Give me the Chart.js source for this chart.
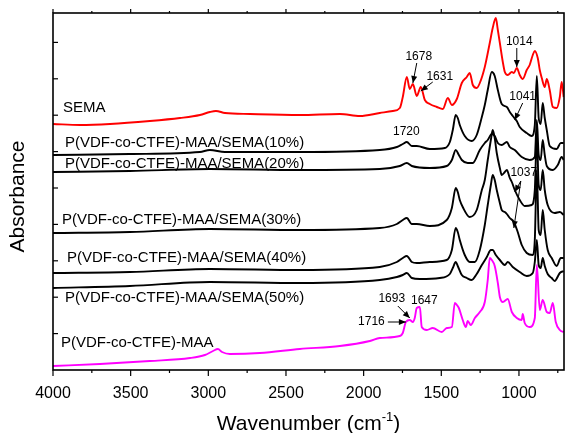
<!DOCTYPE html>
<html>
<head>
<meta charset="utf-8">
<script src="https://cdn.jsdelivr.net/npm/chart.js@4.4.0/dist/chart.umd.min.js"></script>
<style>
  html, body { margin: 0; padding: 0; background: #fff; }
</style>
</head>
<body>
<canvas id="ftir" width="565" height="433"></canvas>
<script>
// x ticks (cm-1)
const xTicks = [1000, 1500, 2000, 2500, 3000, 3500, 4000];

// spectra: wavenumber / absorbance (stacked, a.u.)
const semaWn  = [4000,3826,3633,3376,3183,3054,2990,2951,2893,2732,2411,2153,2024,1896,1812,1767,1748,1722,1703,1683,1658,1632,1606,1574,1529,1490,1458,1432,1400,1368,1336,1317,1297,1272,1252,1220,1188,1169,1149,1136,1123,1104,1091,1072,1046,1033,1014,995,976,950,931,911,898,879,866,853,834,821,802,782,757,737,725,712];
const semaAbs = [2.46,2.45,2.46,2.49,2.52,2.55,2.58,2.59,2.57,2.56,2.55,2.56,2.54,2.57,2.59,2.62,2.73,2.93,2.81,2.86,2.74,2.83,2.70,2.66,2.63,2.61,2.72,2.65,2.71,2.87,2.93,2.97,2.85,2.82,2.87,3.03,3.27,3.42,3.52,3.40,3.27,3.08,2.98,2.95,2.98,2.97,3.02,2.95,2.91,3.00,3.05,3.15,3.19,3.12,3.00,2.92,2.83,2.91,2.80,2.63,2.62,2.73,2.88,2.73];

const s10Wn  = [4000,3505,3054,2990,2893,2411,1896,1786,1748,1722,1690,1658,1574,1477,1445,1426,1407,1394,1381,1349,1304,1272,1239,1220,1201,1175,1156,1136,1111,1078,1059,1040,1014,995,950,918,898,885,873,860,847,834,821,802,757,731,712];
const s10Abs = [2.15,2.16,2.18,2.20,2.18,2.18,2.20,2.23,2.26,2.28,2.24,2.24,2.21,2.22,2.28,2.40,2.55,2.52,2.45,2.34,2.29,2.35,2.53,2.65,2.80,2.98,2.94,2.80,2.66,2.63,2.58,2.54,2.49,2.43,2.37,2.34,2.45,2.94,2.52,2.46,2.67,2.52,2.40,2.24,2.21,2.27,2.27];

const s20Wn  = [4000,3505,2990,2411,1896,1767,1722,1690,1574,1465,1432,1407,1387,1368,1330,1297,1252,1220,1201,1175,1156,1136,1111,1078,1059,1027,982,931,898,885,873,860,847,834,821,782,750,725,712];
const s20Abs = [1.98,1.99,2.01,2.00,2.01,2.04,2.07,2.04,2.02,2.04,2.10,2.20,2.15,2.10,2.07,2.07,2.20,2.27,2.30,2.36,2.34,2.27,2.25,2.28,2.23,2.20,2.13,2.10,2.13,2.50,2.15,2.10,2.30,2.15,2.04,2.00,2.05,2.13,2.10];

const s30Wn  = [4000,3505,2990,2411,1896,1786,1748,1722,1690,1658,1574,1465,1432,1407,1394,1381,1362,1317,1272,1239,1220,1201,1181,1169,1156,1143,1123,1111,1091,1078,1059,1046,1027,995,963,918,898,885,873,860,847,834,815,770,737,712];
const s30Abs = [1.37,1.38,1.41,1.40,1.42,1.46,1.50,1.52,1.46,1.46,1.44,1.50,1.62,1.82,1.78,1.70,1.63,1.53,1.60,1.80,1.90,2.10,2.30,2.40,2.32,2.17,2.02,1.95,1.98,2.00,1.92,1.88,1.80,1.70,1.64,1.65,1.80,2.35,1.85,1.80,2.00,1.80,1.65,1.57,1.58,1.55];

const s40Wn  = [4000,3505,2990,2411,1896,1786,1748,1722,1690,1658,1574,1465,1432,1407,1394,1381,1349,1317,1284,1252,1220,1201,1181,1169,1156,1143,1123,1111,1091,1078,1059,1033,1008,982,950,911,898,885,873,860,847,834,815,789,757,731,712];
const s40Abs = [0.97,0.98,1.01,1.00,1.03,1.08,1.12,1.14,1.08,1.07,1.08,1.10,1.20,1.42,1.38,1.30,1.15,1.08,1.08,1.20,1.45,1.65,1.85,1.95,1.90,1.80,1.67,1.60,1.58,1.56,1.52,1.48,1.38,1.25,1.17,1.15,1.30,2.00,1.40,1.35,1.60,1.40,1.20,1.12,1.04,1.12,1.12];

const s50Wn  = [4000,3505,2990,2411,1896,1786,1748,1722,1690,1638,1510,1445,1426,1407,1394,1368,1336,1304,1272,1239,1207,1181,1169,1149,1123,1091,1072,1040,995,950,911,898,885,873,860,847,834,815,789,770,737,712];
const s50Abs = [0.82,0.84,0.88,0.87,0.90,0.93,0.95,0.97,0.92,0.91,0.92,0.96,1.02,1.08,1.04,0.95,0.92,0.90,0.96,1.05,1.13,1.20,1.20,1.15,1.10,1.05,1.08,1.03,0.98,0.94,0.97,1.08,1.30,1.05,1.02,1.12,1.04,0.96,0.92,0.89,0.97,0.99];

const maaWn  = [4000,3698,3376,3118,3022,2970,2938,2912,2861,2668,2411,2153,1960,1896,1767,1748,1728,1703,1683,1671,1658,1638,1626,1593,1555,1497,1465,1432,1413,1400,1387,1362,1342,1330,1310,1284,1252,1220,1201,1188,1175,1156,1136,1123,1104,1072,1046,1014,982,976,963,931,898,885,866,847,821,802,782,763,737,712];
const maaAbs = [0.04,0.06,0.09,0.12,0.15,0.19,0.21,0.18,0.16,0.17,0.21,0.24,0.29,0.32,0.34,0.37,0.48,0.50,0.48,0.52,0.62,0.63,0.43,0.40,0.42,0.38,0.42,0.43,0.67,0.65,0.62,0.50,0.43,0.49,0.45,0.52,0.58,0.68,0.90,1.12,1.10,1.04,0.87,0.73,0.68,0.71,0.58,0.52,0.50,0.56,0.47,0.43,0.52,1.05,0.60,0.70,0.58,0.57,0.67,0.48,0.40,0.38];

const seriesNames = ['SEMA','P(VDF-co-CTFE)-MAA/SEMA(10%)','P(VDF-co-CTFE)-MAA/SEMA(20%)','P(VDF-co-CTFE)-MAA/SEMA(30%)','P(VDF-co-CTFE)-MAA/SEMA(40%)','P(VDF-co-CTFE)-MAA/SEMA(50%)','P(VDF-co-CTFE)-MAA'];
const seriesWn  = [semaWn, s10Wn, s20Wn, s30Wn, s40Wn, s50Wn, maaWn];
const seriesAbs = [semaAbs, s10Abs, s20Abs, s30Abs, s40Abs, s50Abs, maaAbs];
const seriesColors = ['#ff0000','#000000','#000000','#000000','#000000','#000000','#ff00ff'];

// where each name sits (left edge, middle)
const nameAt = [[3936,2.62],[3923,2.27],[3923,2.06],[3942,1.50],[3910,1.12],[3923,0.72],[3949,0.27]];

// peak marks: text, text centre, arrows [from, to]
const peaks = [
  {t:'1678', at:[1645,3.13], arrows:[[[1658,3.07],[1683,2.87]]]},
  {t:'1631', at:[1510,2.93], arrows:[[[1555,2.88],[1632,2.79]]]},
  {t:'1014', at:[998,3.28],  arrows:[[[1014,3.22],[1014,3.03]]]},
  {t:'1041', at:[976,2.73],  arrows:[[[976,2.67],[1027,2.50]]]},
  {t:'1720', at:[1725,2.38], arrows:[]},
  {t:'1037', at:[969,1.97],  arrows:[[[988,1.89],[1027,1.78]],[[988,1.89],[1033,1.42]]]},
  {t:'1693', at:[1819,0.71], arrows:[[[1780,0.64],[1703,0.52]]]},
  {t:'1647', at:[1609,0.69], arrows:[]},
  {t:'1716', at:[1950,0.48], arrows:[[[1844,0.48],[1728,0.48]]]}
];

const FONT = '"Liberation Sans", Arial, sans-serif';

const datasets = seriesNames.map((n, i) => ({
  label: n,
  data: seriesWn[i].map((w, k) => ({x: w, y: seriesAbs[i][k]})),
  borderColor: seriesColors[i],
  borderWidth: 1.9,
  pointRadius: 0,
  cubicInterpolationMode: 'monotone',
  fill: false
}));

function arrow(ctx, x1, y1, x2, y2){
  ctx.beginPath(); ctx.moveTo(x1, y1); ctx.lineTo(x2, y2); ctx.stroke();
  const a = Math.atan2(y2 - y1, x2 - x1), L = 7, W = 3;
  ctx.beginPath();
  ctx.moveTo(x2, y2);
  ctx.lineTo(x2 - L*Math.cos(a) + W*Math.sin(a), y2 - L*Math.sin(a) - W*Math.cos(a));
  ctx.lineTo(x2 - L*Math.cos(a) - W*Math.sin(a), y2 - L*Math.sin(a) + W*Math.cos(a));
  ctx.closePath(); ctx.fill();
}

const decor = {
  id: 'decor',
  afterDraw(chart){
    const {ctx, chartArea: a, scales: {x, y}} = chart;
    ctx.save();
    ctx.strokeStyle = '#000'; ctx.fillStyle = '#000';
    ctx.lineWidth = 1.6;
    ctx.strokeRect(a.left, a.top, a.right - a.left, a.bottom - a.top);
    ctx.lineWidth = 1.2;
    // x ticks, majors and minors
    for (let v = 750; v <= 4000; v += 250){
      const px = x.getPixelForValue(v);
      const major = v % 500 === 0;
      ctx.beginPath();
      ctx.moveTo(px, a.bottom); ctx.lineTo(px, a.bottom + (major ? 6 : 3));
      ctx.moveTo(px, a.top);    ctx.lineTo(px, a.top - (major ? 4 : 2));
      ctx.stroke();
    }
    // y ticks inward
    for (let v = 0.364; v < y.max; v += 0.364){
      const py = y.getPixelForValue(v);
      ctx.beginPath(); ctx.moveTo(a.left, py); ctx.lineTo(a.left + 5, py); ctx.stroke();
    }
    // series names
    ctx.font = '15px ' + FONT;
    ctx.textAlign = 'left'; ctx.textBaseline = 'middle';
    seriesNames.forEach((n, i) => {
      ctx.fillText(n, x.getPixelForValue(nameAt[i][0]), y.getPixelForValue(nameAt[i][1]));
    });
    // peak labels + arrows
    ctx.font = '12px ' + FONT;
    ctx.textAlign = 'center';
    ctx.lineWidth = 1;
    peaks.forEach(p => {
      ctx.fillText(p.t, x.getPixelForValue(p.at[0]), y.getPixelForValue(p.at[1]));
      p.arrows.forEach(([f, t]) => arrow(ctx,
        x.getPixelForValue(f[0]), y.getPixelForValue(f[1]),
        x.getPixelForValue(t[0]), y.getPixelForValue(t[1])));
    });
    // axis titles
    ctx.font = '21px ' + FONT;
    ctx.textBaseline = 'alphabetic'; ctx.textAlign = 'left';
    const main = 'Wavenumber (cm', sup = '-1', end = ')';
    const w1 = ctx.measureText(main).width, w3 = ctx.measureText(end).width;
    ctx.font = '13px ' + FONT;
    const w2 = ctx.measureText(sup).width;
    let tx = (a.left + a.right) / 2 - (w1 + w2 + w3) / 2;
    const ty = 430;
    ctx.font = '21px ' + FONT; ctx.fillText(main, tx, ty); tx += w1;
    ctx.font = '13px ' + FONT; ctx.fillText(sup, tx, ty - 9); tx += w2;
    ctx.font = '21px ' + FONT; ctx.fillText(end, tx, ty);
    ctx.translate(18, (a.top + a.bottom) / 2 + 5);
    ctx.rotate(-Math.PI / 2);
    ctx.textAlign = 'center'; ctx.textBaseline = 'middle';
    ctx.fillText('Absorbance', 0, 0);
    ctx.restore();
  }
};

new Chart(document.getElementById('ftir'), {
  type: 'line',
  data: {datasets},
  options: {
    responsive: false,
    animation: false,
    devicePixelRatio: 1,
    layout: {padding: {left: 53, top: 13, right: 1, bottom: 0}},
    plugins: {legend: {display: false}, tooltip: {enabled: false}},
    scales: {
      x: {
        type: 'linear', reverse: true, min: 710, max: 4000,
        afterBuildTicks: s => { s.ticks = xTicks.map(v => ({value: v})); },
        afterFit: s => { s.height = 63; },
        grid: {display: false, drawTicks: false},
        border: {display: false},
        ticks: {color: '#000', font: {size: 16, family: FONT}, padding: 14, maxRotation: 0, autoSkip: false,
                callback: v => String(v)}
      },
      y: {
        display: false, min: 0, max: 3.57
      }
    }
  },
  plugins: [decor]
});
</script>
</body>
</html>
